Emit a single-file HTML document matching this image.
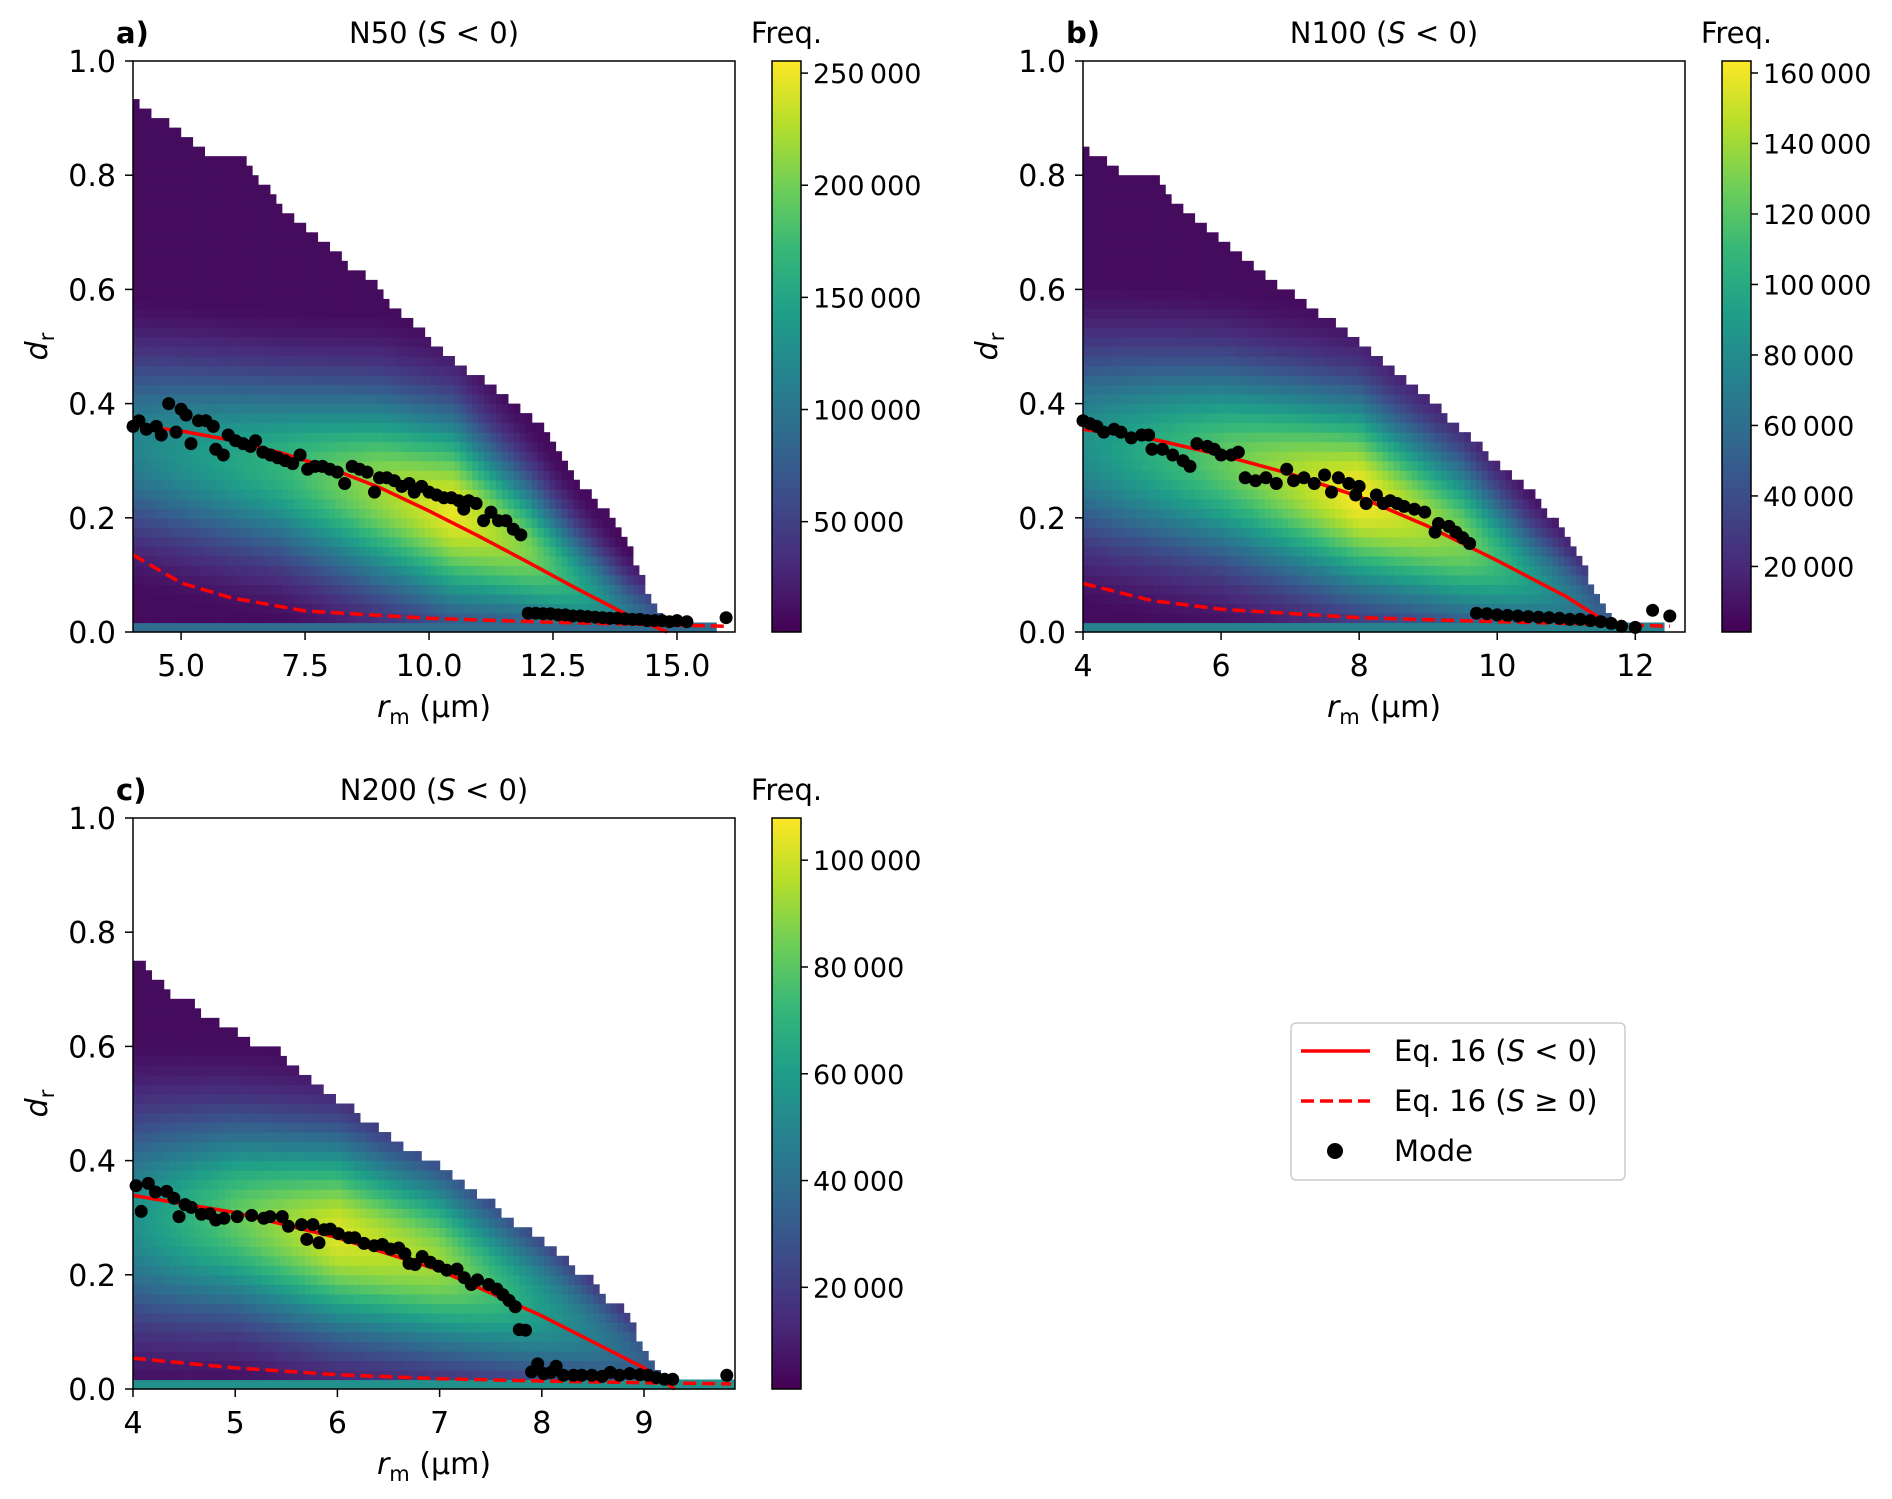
<!DOCTYPE html>
<html><head><meta charset="utf-8">
<style>
html,body{margin:0;padding:0;background:#fff;}
svg{display:block;font-family:"DejaVu Sans","Liberation Sans",sans-serif;}
</style></head>
<body>
<svg id="fig" width="1892" height="1499" viewBox="0 0 1892 1499" xmlns="http://www.w3.org/2000/svg"></svg>
<script>
// ---------- Panel a data (N50) ----------
const aBoundR=[4.03,4.39,4.64,4.91,5.15,5.39,5.73,6.34,6.61,7.01,7.44,7.74,8.04,8.35,8.65,8.90,9.14,9.38,9.63,9.87,10.11,10.36,10.60,10.84,11.09,11.33,11.57,11.82,12.06,12.30,12.55,12.79,13.03,13.28,13.52,13.76,14.01,14.25,14.43,14.61,14.74,15.7];
const aBoundD=[0.93,0.91,0.898,0.88,0.862,0.845,0.828,0.828,0.79,0.742,0.709,0.695,0.675,0.642,0.625,0.608,0.577,0.558,0.544,0.524,0.503,0.49,0.47,0.453,0.44,0.424,0.407,0.39,0.373,0.356,0.323,0.302,0.252,0.239,0.218,0.185,0.151,0.1,0.067,0.034,0.017,0.017];
const aRidgeR=[4,7,9,10.5,12,13,14,14.8];
const aRidgeD=[0.33,0.29,0.25,0.21,0.14,0.08,0.03,0.01];
const aRidgeAmp=[0.45,0.65,0.85,0.97,0.8,0.6,0.4,0.25];
const aRidgeSig=[0.11,0.11,0.12,0.12,0.09,0.07,0.05,0.04];
const aSolidR=[4.03,5,6,7,8,9,10,11,12,13,14,14.8];
const aSolidD=[0.362,0.352,0.336,0.314,0.287,0.253,0.212,0.168,0.122,0.075,0.03,0.0];
const aDashR=[4.03,5,6,7.5,10,12.5,15,16];
const aDashD=[0.135,0.086,0.06,0.037,0.024,0.017,0.012,0.01];
const aModeR=[4.03,4.15,4.3,4.5,4.6,4.75,4.9,5.0,5.1,5.2,5.35,5.5,5.65,5.7,5.85,5.95,6.1,6.25,6.4,6.5,6.65,6.8,6.95,7.1,7.25,7.4,7.55,7.7,7.85,8.0,8.15,8.3,8.45,8.6,8.75,8.9,9.0,9.15,9.3,9.45,9.6,9.7,9.85,10.0,10.15,10.3,10.45,10.6,10.7,10.8,10.95,11.1,11.25,11.4,11.55,11.7,11.85,12.0,12.15,12.3,12.45,12.6,12.75,12.9,13.05,13.2,13.35,13.5,13.65,13.8,13.95,14.1,14.25,14.4,14.55,14.7,14.85,15.0,15.2,15.99];
const aModeD=[0.36,0.37,0.355,0.36,0.345,0.4,0.35,0.39,0.38,0.33,0.37,0.37,0.36,0.32,0.31,0.345,0.335,0.33,0.325,0.335,0.315,0.31,0.305,0.3,0.295,0.31,0.285,0.29,0.29,0.285,0.28,0.26,0.29,0.285,0.28,0.245,0.27,0.27,0.265,0.255,0.26,0.245,0.255,0.245,0.24,0.235,0.235,0.23,0.215,0.23,0.225,0.195,0.21,0.195,0.195,0.18,0.17,0.033,0.033,0.032,0.032,0.03,0.03,0.028,0.028,0.027,0.026,0.025,0.024,0.024,0.023,0.022,0.022,0.02,0.02,0.02,0.018,0.02,0.018,0.025];
const aXTicks=[5,7.5,10,12.5,15];
const aXLabels=["5.0","7.5","10.0","12.5","15.0"];
const aCbTicks=[50000,100000,150000,200000,250000];
const aCbLabels=["50\u2009000","100\u2009000","150\u2009000","200\u2009000","250\u2009000"];

// ---------- Panel b data (N100) ----------
const bBoundR=[4.0,4.1,4.32,4.54,5.11,5.2,5.33,5.46,5.6,5.77,5.9,6.08,6.21,6.34,6.56,6.78,7.0,7.22,7.35,7.53,7.75,7.88,8.05,8.23,8.4,8.58,8.75,8.93,9.11,9.28,9.46,9.59,9.76,9.94,10.11,10.29,10.47,10.64,10.77,10.95,11.12,11.26,11.34,11.47,11.61,11.69,12.4];
const bBoundD=[0.845,0.84,0.826,0.80,0.80,0.77,0.755,0.742,0.726,0.713,0.696,0.684,0.667,0.65,0.633,0.612,0.596,0.575,0.562,0.55,0.533,0.52,0.503,0.482,0.466,0.449,0.432,0.415,0.398,0.378,0.356,0.34,0.323,0.302,0.285,0.268,0.247,0.227,0.206,0.18,0.147,0.113,0.08,0.055,0.03,0.017,0.017];
const bRidgeR=[4,6,8,9.5,10.5,11.5,12];
const bRidgeD=[0.33,0.3,0.24,0.16,0.09,0.03,0.01];
const bRidgeAmp=[0.5,0.75,1.0,0.8,0.55,0.3,0.2];
const bRidgeSig=[0.12,0.12,0.12,0.1,0.07,0.05,0.04];
const bSolidR=[4,5,6,7,8,9,10,11,11.7];
const bSolidD=[0.355,0.338,0.31,0.277,0.237,0.185,0.125,0.062,0.008];
const bDashR=[4,5,6,8,10,12,12.5];
const bDashD=[0.085,0.055,0.04,0.025,0.018,0.012,0.01];
const bModeR=[4.0,4.1,4.2,4.3,4.45,4.55,4.7,4.85,4.95,5.0,5.15,5.3,5.45,5.55,5.65,5.8,5.9,6.0,6.15,6.25,6.35,6.5,6.65,6.8,6.95,7.05,7.2,7.35,7.5,7.6,7.7,7.85,8.0,7.95,8.1,8.25,8.35,8.45,8.55,8.65,8.8,8.95,9.1,9.15,9.3,9.4,9.5,9.6,9.7,9.85,10.0,10.15,10.3,10.45,10.6,10.75,10.9,11.05,11.2,11.35,11.5,11.65,11.8,12.0,12.25,12.5];
const bModeD=[0.37,0.365,0.36,0.35,0.355,0.35,0.34,0.345,0.345,0.32,0.32,0.31,0.3,0.29,0.33,0.325,0.32,0.31,0.31,0.315,0.27,0.265,0.27,0.26,0.285,0.265,0.27,0.26,0.275,0.245,0.27,0.26,0.255,0.24,0.225,0.24,0.225,0.23,0.225,0.22,0.215,0.21,0.175,0.19,0.185,0.175,0.165,0.155,0.033,0.032,0.03,0.029,0.028,0.027,0.026,0.025,0.024,0.022,0.022,0.02,0.018,0.015,0.01,0.008,0.038,0.028];
const bXTicks=[4,6,8,10,12];
const bXLabels=["4","6","8","10","12"];
const bCbTicks=[20000,40000,60000,80000,100000,120000,140000,160000];
const bCbLabels=["20\u2009000","40\u2009000","60\u2009000","80\u2009000","100\u2009000","120\u2009000","140\u2009000","160\u2009000"];

// ---------- Panel c data (N200) ----------
const cBoundR=[4.0,4.12,4.18,4.24,4.3,4.37,4.53,4.59,4.71,4.84,4.96,5.08,5.18,5.24,5.42,5.48,5.54,5.61,5.73,5.85,5.91,5.97,6.09,6.19,6.28,6.38,6.5,6.56,6.68,6.8,6.93,6.99,7.11,7.21,7.29,7.39,7.52,7.58,7.64,7.74,7.86,7.98,8.04,8.17,8.23,8.29,8.35,8.47,8.53,8.59,8.65,8.77,8.83,8.89,8.94,9.0,9.06,9.14,9.22,9.3,9.85];
const cBoundD=[0.753,0.739,0.726,0.716,0.702,0.691,0.691,0.669,0.655,0.643,0.63,0.618,0.607,0.595,0.595,0.581,0.569,0.558,0.544,0.532,0.521,0.509,0.497,0.484,0.47,0.46,0.448,0.437,0.423,0.413,0.4,0.388,0.376,0.363,0.349,0.339,0.327,0.314,0.302,0.289,0.278,0.265,0.252,0.24,0.228,0.215,0.204,0.192,0.179,0.168,0.158,0.143,0.128,0.111,0.094,0.064,0.044,0.03,0.02,0.013,0.013];
const cRidgeR=[4,5,6,7,8,9,9.4];
const cRidgeD=[0.3,0.3,0.27,0.22,0.14,0.05,0.01];
const cRidgeAmp=[0.5,0.75,0.95,0.85,0.55,0.3,0.2];
const cRidgeSig=[0.13,0.12,0.12,0.11,0.09,0.05,0.04];
const cSolidR=[4,5,6,7,8,9,9.3];
const cSolidD=[0.339,0.309,0.265,0.208,0.128,0.037,0.0];
const cDashR=[4,5,6,7,8,9,9.85];
const cDashD=[0.054,0.037,0.025,0.018,0.014,0.011,0.009];
const cModeR=[4.03,4.08,4.15,4.22,4.33,4.4,4.45,4.51,4.57,4.67,4.75,4.81,4.89,5.02,5.16,5.28,5.34,5.46,5.52,5.65,5.70,5.76,5.82,5.87,5.93,6.01,6.11,6.17,6.26,6.36,6.44,6.52,6.6,6.66,6.7,6.76,6.83,6.91,6.99,7.07,7.17,7.24,7.31,7.37,7.48,7.56,7.62,7.68,7.74,7.78,7.84,7.9,7.96,8.02,8.09,8.14,8.21,8.31,8.39,8.49,8.59,8.67,8.76,8.86,8.96,9.04,9.12,9.2,9.28,9.81];
const cModeD=[0.356,0.311,0.36,0.345,0.346,0.334,0.302,0.323,0.318,0.306,0.307,0.296,0.299,0.302,0.304,0.299,0.302,0.302,0.285,0.288,0.262,0.288,0.256,0.279,0.28,0.272,0.265,0.265,0.255,0.251,0.253,0.245,0.247,0.237,0.22,0.218,0.232,0.222,0.215,0.208,0.21,0.195,0.183,0.191,0.183,0.175,0.165,0.155,0.144,0.104,0.103,0.03,0.044,0.027,0.029,0.04,0.024,0.024,0.024,0.024,0.022,0.029,0.024,0.027,0.025,0.024,0.02,0.017,0.017,0.024];
const cXTicks=[4,5,6,7,8,9];
const cXLabels=["4","5","6","7","8","9"];
const cCbTicks=[20000,40000,60000,80000,100000];
const cCbLabels=["20\u2009000","40\u2009000","60\u2009000","80\u2009000","100\u2009000"];

const yTicks=[0,0.2,0.4,0.6,0.8,1.0];
const yLabels=["0.0","0.2","0.4","0.6","0.8","1.0"];

const NS="http://www.w3.org/2000/svg";
const fig=document.getElementById('fig');
function el(tag,attrs,parent){const e=document.createElementNS(NS,tag);for(const k in attrs)e.setAttribute(k,attrs[k]);(parent||fig).appendChild(e);return e;}
const VIR=["#440154","#482878","#3e4989","#31688e","#26828e","#1f9e89","#35b779","#6ece58","#b5de2b","#fde725"];
function hex(h){return [parseInt(h.substr(1,2),16),parseInt(h.substr(3,2),16),parseInt(h.substr(5,2),16)];}
function viridis(t){t=Math.max(0,Math.min(1,t));const p=t*9;const i=Math.min(8,Math.floor(p));const f=p-i;const a=hex(VIR[i]),b=hex(VIR[i+1]);return "rgb("+a.map((v,k)=>Math.round(v+(b[k]-v)*f)).join(",")+")";}
function interp(xs,ys,x){if(x<=xs[0])return ys[0];for(let i=1;i<xs.length;i++){if(x<=xs[i]){const f=(x-xs[i-1])/(xs[i]-xs[i-1]);return ys[i-1]+(ys[i]-ys[i-1])*f;}}return ys[ys.length-1];}

function panel(p){
  const g=el('g',{});
  
  
  const W=p.R-p.L,H=p.B-p.T;
  const sx=r=>p.L+(r-p.xmin)/(p.xmax-p.xmin)*W;
  const sy=d=>p.B-d*H;
  const hm=el('g',{},g);
  
  
  const rowH=1/60;
  const rEnd=p.boundR[p.boundR.length-1];
  for(let r0=p.xmin;r0<rEnd-1e-6;r0+=p.binW){
    const rc=r0+p.binW/2;
    const top=interp(p.boundR,p.boundD,rc);
    const nrows=Math.max(1,Math.round(top/rowH));
    const rid=interp(p.ridgeR,p.ridgeD,rc),amp=interp(p.ridgeR,p.ridgeAmp,rc),sig=interp(p.ridgeR,p.ridgeSig,rc);
    for(let j=0;j<nrows;j++){
      const dc=(j+0.5)*rowH;
      let v;
      if(j===0)v=p.bottomVal;
      else{const z=(dc-rid)/sig;v=Math.max(0.03,amp*Math.exp(-0.5*z*z));}
      const x0=sx(r0),x1=Math.min(p.R,sx(r0+p.binW));
      const rc2=el('rect',{x:x0.toFixed(2),y:sy((j+1)*rowH).toFixed(2),width:(x1-x0+0.6).toFixed(2),height:(rowH*H+0.6).toFixed(2),fill:viridis(v)},hm);
      
      
    }
  }
  let dpts=p.dashR.map((r,i)=>sx(r).toFixed(1)+","+sy(p.dashD[i]).toFixed(1)).join(" ");
  const dl=el('polyline',{points:dpts,fill:"none",stroke:"#ff0000","stroke-width":3.5,"stroke-dasharray":"13,6"},g);
  
  
  let spts=p.solidR.map((r,i)=>sx(r).toFixed(1)+","+sy(p.solidD[i]).toFixed(1)).join(" ");
  const sl=el('polyline',{points:spts,fill:"none",stroke:"#ff0000","stroke-width":3.5,"stroke-linejoin":"round"},g);
  
  
  p.modeR.forEach((r,i)=>{
    const c=el('circle',{cx:sx(r).toFixed(1),cy:sy(p.modeD[i]).toFixed(1),r:6.5,fill:"#000"},g);
    
    
  });
  const fr=el('rect',{x:p.L,y:p.T,width:W,height:H,fill:"none",stroke:"#000","stroke-width":1.5},g);
  
  
  yTicks.forEach((t,i)=>{
    el('line',{x1:p.L-8,x2:p.L,y1:sy(t),y2:sy(t),stroke:"#000","stroke-width":1.5},g);
    const tx=el('text',{x:p.L-17,y:sy(t)+11,"font-size":30,"text-anchor":"end",fill:"#000"},g);
    tx.textContent=yLabels[i];
    
    
  });
  p.xTicks.forEach((t,i)=>{
    el('line',{x1:sx(t),x2:sx(t),y1:p.B,y2:p.B+8,stroke:"#000","stroke-width":1.5},g);
    const tx=el('text',{x:sx(t),y:p.B+44,"font-size":30,"text-anchor":"middle",fill:"#000"},g);
    tx.textContent=p.xLabels[i];
    
    
  });
  const xl=el('text',{x:(p.L+p.R)/2,y:p.B+85,"font-size":30,"text-anchor":"middle",fill:"#000"},g);
  xl.innerHTML='<tspan font-style="italic">r</tspan><tspan font-size="21" dy="7">m</tspan><tspan dy="-7"> (µm)</tspan>';
  
  
  const yl=el('text',{x:0,y:0,"font-size":30,"text-anchor":"middle",fill:"#000",transform:"translate("+(p.L-86)+","+((p.T+p.B)/2)+") rotate(-90)"},g);
  yl.innerHTML='<tspan font-style="italic">d</tspan><tspan font-size="21" dy="7">r</tspan>';
  
  
  const pl=el('text',{x:p.L-17,y:p.T-18,"font-size":29,"font-weight":"bold",fill:"#000"},g);
  pl.textContent=p.letter;
  
  
  const ti=el('text',{x:(p.L+p.R)/2,y:p.T-18,"font-size":29,"text-anchor":"middle",fill:"#000"},g);
  ti.innerHTML=p.title+' (<tspan font-style="italic">S</tspan> &lt; 0)';
  
  
  const cbL=p.R+37,cbW=29;
  const gid='vg'+p.letter.charAt(0);
  const defs=el('defs',{},g);
  const lg=el('linearGradient',{id:gid,x1:0,y1:1,x2:0,y2:0},defs);
  VIR.forEach((c,i)=>el('stop',{offset:(i/9),"stop-color":c},lg));
  const cb=el('rect',{x:cbL,y:p.T,width:cbW,height:H,fill:"url(#"+gid+")",stroke:"#000","stroke-width":1.5},g);
  
  
  const cy=v=>p.B-(v-p.cbMin)/(p.cbMax-p.cbMin)*H;
  p.cbTicks.forEach((t,i)=>{
    el('line',{x1:cbL+cbW,x2:cbL+cbW+7,y1:cy(t),y2:cy(t),stroke:"#000","stroke-width":1.5},g);
    const tx=el('text',{x:cbL+cbW+12,y:cy(t)+10,"font-size":27,fill:"#000"},g);
    tx.textContent=p.cbLabels[i];
    
    
  });
  const fq=el('text',{x:cbL+cbW/2,y:p.T-18,"font-size":29,"text-anchor":"middle",fill:"#000"},g);
  fq.textContent="Freq.";
  
  
}

panel({name:'panel-a-n50',letter:'a)',title:'N50',L:133,R:735,T:61,B:632,xmin:4.03,xmax:16.17,binW:0.12,bottomVal:0.35,
  boundR:aBoundR,boundD:aBoundD,ridgeR:aRidgeR,ridgeD:aRidgeD,ridgeAmp:aRidgeAmp,ridgeSig:aRidgeSig,
  solidR:aSolidR,solidD:aSolidD,dashR:aDashR,dashD:aDashD,modeR:aModeR,modeD:aModeD,
  xTicks:aXTicks,xLabels:aXLabels,cbTicks:aCbTicks,cbLabels:aCbLabels,cbMin:800,cbMax:255400});
panel({name:'panel-b-n100',letter:'b)',title:'N100',L:1083,R:1685,T:61,B:632,xmin:4,xmax:12.72,binW:0.085,bottomVal:0.45,
  boundR:bBoundR,boundD:bBoundD,ridgeR:bRidgeR,ridgeD:bRidgeD,ridgeAmp:bRidgeAmp,ridgeSig:bRidgeSig,
  solidR:bSolidR,solidD:bSolidD,dashR:bDashR,dashD:bDashD,modeR:bModeR,modeD:bModeD,
  xTicks:bXTicks,xLabels:bXLabels,cbTicks:bCbTicks,cbLabels:bCbLabels,cbMin:1400,cbMax:163400});
panel({name:'panel-c-n200',letter:'c)',title:'N200',L:133,R:735,T:818,B:1389,xmin:4,xmax:9.89,binW:0.06,bottomVal:0.5,
  boundR:cBoundR,boundD:cBoundD,ridgeR:cRidgeR,ridgeD:cRidgeD,ridgeAmp:cRidgeAmp,ridgeSig:cRidgeSig,
  solidR:cSolidR,solidD:cSolidD,dashR:cDashR,dashD:cDashD,modeR:cModeR,modeD:cModeD,
  xTicks:cXTicks,xLabels:cXLabels,cbTicks:cCbTicks,cbLabels:cCbLabels,cbMin:960,cbMax:107900});

const lg=el('g',{});


el('rect',{x:1291,y:1023,width:334,height:157,rx:5,fill:"#fff",stroke:"#ccc","stroke-width":1.5},lg);
const e1=el('line',{x1:1301,x2:1370,y1:1051,y2:1051,stroke:"#ff0000","stroke-width":3.5},lg);


const e2=el('line',{x1:1301,x2:1370,y1:1101,y2:1101,stroke:"#ff0000","stroke-width":3.5,"stroke-dasharray":"13,6"},lg);


const e3=el('circle',{cx:1335,cy:1151,r:8,fill:"#000"},lg);


const t1=el('text',{x:1394,y:1061,"font-size":29,fill:"#000"},lg);
t1.innerHTML='Eq. 16 (<tspan font-style="italic">S</tspan> &lt; 0)';


const t2=el('text',{x:1394,y:1111,"font-size":29,fill:"#000"},lg);
t2.innerHTML='Eq. 16 (<tspan font-style="italic">S</tspan> ≥ 0)';


const t3=el('text',{x:1394,y:1161,"font-size":29,fill:"#000"},lg);
t3.textContent='Mode';


</script>
</body></html>
